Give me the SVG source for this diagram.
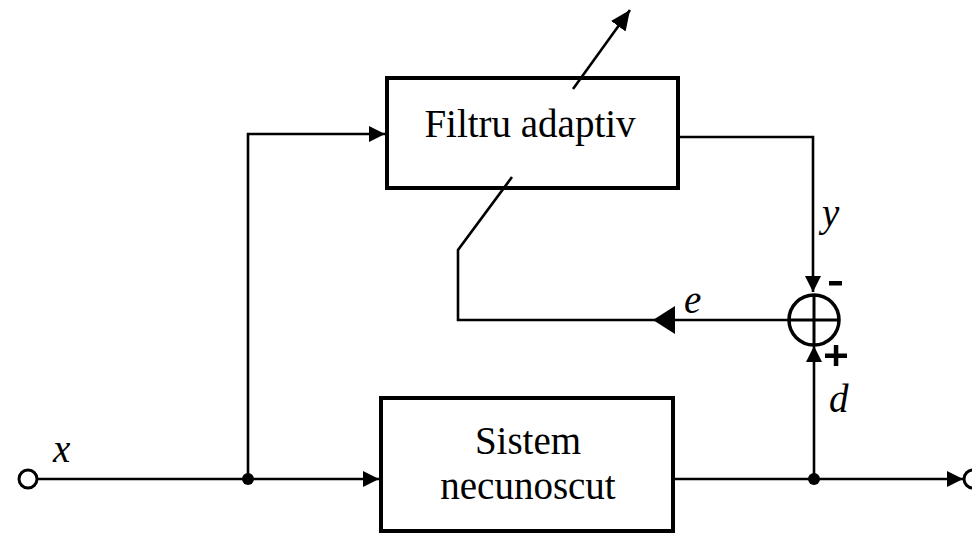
<svg xmlns="http://www.w3.org/2000/svg" width="972" height="535" viewBox="0 0 972 535">
<style>
.box{fill:#fff;stroke:#000;stroke-width:4}
.ln{fill:none;stroke:#000;stroke-width:2.6}
.lbl{font-family:"Liberation Serif","Times New Roman",serif;font-size:39px;fill:#000}
.it{font-family:"Liberation Serif","Times New Roman",serif;font-size:39px;font-style:italic;fill:#000}
</style>
<defs>
<marker id="ah" markerUnits="userSpaceOnUse" markerWidth="16" markerHeight="16" refX="16" refY="8" orient="auto">
<path d="M0,0 L16,8 L0,16 z" fill="#000"/>
</marker>
<marker id="ahb" markerUnits="userSpaceOnUse" markerWidth="22" markerHeight="28" refX="22" refY="14" orient="auto">
<path d="M0,0 L22,14 L0,28 z" fill="#000"/>
</marker>
<marker id="ahd" markerUnits="userSpaceOnUse" markerWidth="20" markerHeight="18" refX="20" refY="9" orient="auto">
<path d="M0,0 L20,9 L0,18 z" fill="#000"/>
</marker>
</defs>
<g id="filtru">
<rect class="box" x="387" y="78" width="291" height="110"/>
<text class="lbl" x="530" y="137" text-anchor="middle">Filtru adaptiv</text>
</g>
<g id="sistem">
<rect class="box" x="381" y="398" width="292" height="133"/>
<text class="lbl" x="528" y="454" text-anchor="middle">Sistem</text>
<text class="lbl" x="528" y="499" text-anchor="middle">necunoscut</text>
</g>
<g id="connectors">
<line class="ln" x1="38" y1="479" x2="379" y2="479" marker-end="url(#ah)"/>
<polyline class="ln" points="248,479 248,134 385,134" marker-end="url(#ah)"/>
<polyline class="ln" points="680,137 813,137 813,292" marker-end="url(#ah)"/>
<line class="ln" x1="675" y1="479" x2="963" y2="479" marker-end="url(#ah)"/>
<line class="ln" x1="814" y1="479" x2="814" y2="346" marker-end="url(#ah)"/>
<line class="ln" x1="789" y1="320" x2="653" y2="320" marker-end="url(#ahb)"/>
<polyline class="ln" points="653,320 458,320 458,250 512,177"/>
<line class="ln" x1="573" y1="89" x2="630" y2="10" marker-end="url(#ahd)"/>
<circle cx="248" cy="479" r="6" fill="#000"/>
<circle cx="814" cy="479" r="6" fill="#000"/>
</g>
<g id="sum">
<circle cx="814" cy="320" r="25" fill="#fff" stroke="#000" stroke-width="3.5"/>
<line x1="814" y1="295" x2="814" y2="345" stroke="#000" stroke-width="3"/>
<line x1="789" y1="320" x2="839" y2="320" stroke="#000" stroke-width="3"/>
<rect x="829" y="281" width="13" height="4.5" fill="#000"/>
<rect x="825" y="353.5" width="22" height="4.5" fill="#000"/>
<rect x="833.8" y="345" width="4.5" height="21" fill="#000"/>
</g>
<g id="input">
<circle cx="28" cy="479" r="9" fill="#fff" stroke="#000" stroke-width="3"/>
</g>
<g id="output">
<circle cx="973" cy="479" r="9" fill="#fff" stroke="#000" stroke-width="3"/>
</g>
<g id="labels">
<text class="it" x="53" y="462">x</text>
<text class="it" x="822" y="226">y</text>
<text class="it" x="684" y="313">e</text>
<text class="it" x="829" y="412">d</text>
</g>
</svg>
